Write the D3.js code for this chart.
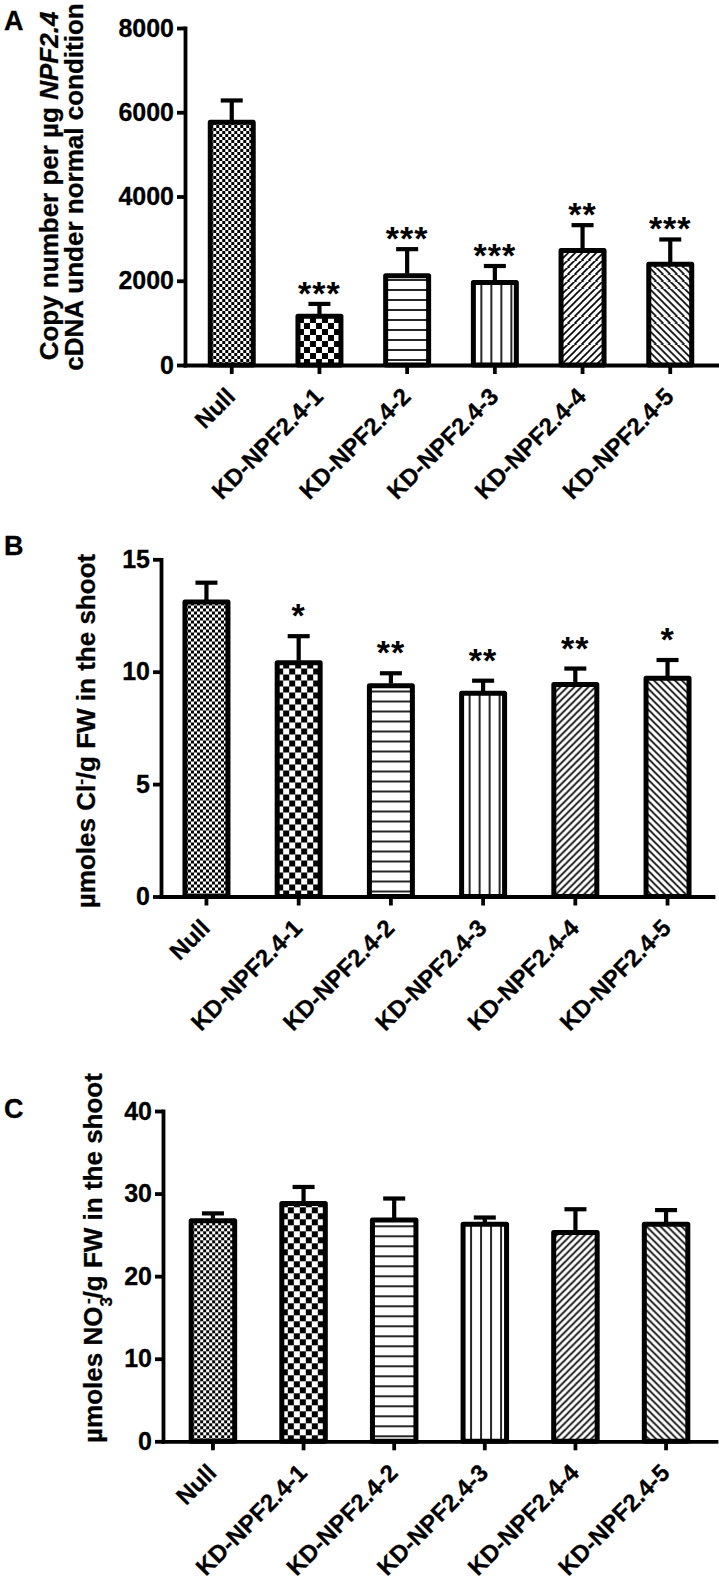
<!DOCTYPE html>
<html>
<head>
<meta charset="utf-8">
<script src="https://cdn.jsdelivr.net/npm/d3@7"></script>
<style>
  html, body { margin: 0; padding: 0; background: #fff; }
  svg { display: block; }
  text { font-family: "Liberation Sans", Arial, sans-serif; }
</style>
</head>
<body>
<svg id="chart" width="719" height="1589"></svg>
<script>
// ---------- data ----------
const categories = ["Null", "KD-NPF2.4-1", "KD-NPF2.4-2", "KD-NPF2.4-3", "KD-NPF2.4-4", "KD-NPF2.4-5"];

const copyMean  = [5760, 1160, 2120, 1960, 2720, 2390];
const copySem   = [520, 290, 630, 390, 600, 590];
const copyStars = ["", "***", "***", "***", "**", "***"];
const copyTicks = [0, 2000, 4000, 6000, 8000];

const clMean  = [13.1, 10.4, 9.38, 9.04, 9.43, 9.71];
const clSem   = [0.86, 1.18, 0.55, 0.56, 0.71, 0.81];
const clStars = ["", "*", "**", "**", "**", "*"];
const clTicks = [0, 5, 10, 15];

const no3Mean  = [26.7, 28.8, 26.8, 26.3, 25.3, 26.3];
const no3Sem   = [0.9, 2.0, 2.6, 0.8, 2.8, 1.7];
const no3Stars = ["", "", "", "", "", ""];
const no3Ticks = [0, 10, 20, 30, 40];

// ---------- layout ----------
const panels = [
  { id: "A", mean: copyMean, sem: copySem, stars: copyStars, ticks: copyTicks, max: 8000,
    x0: 185, x1: 717, pi: 0.51, po: 0.288, yB: 365, yT: 28, starGap: 18,
    letterY: 30 },
  { id: "B", mean: clMean, sem: clSem, stars: clStars, ticks: clTicks, max: 15,
    x0: 161, x1: 713, pi: 0.534, po: 0.26, yB: 896.5, yT: 559.3, starGap: 28,
    letterY: 555 },
  { id: "C", mean: no3Mean, sem: no3Sem, stars: no3Stars, ticks: no3Ticks, max: 40,
    x0: 163, x1: 716, pi: 0.52, po: 0.311, yB: 1441.3, yT: 1111, starGap: 20,
    letterY: 1118 }
];

const svg = d3.select("#chart");
const defs = svg.append("defs");
const FONT = "'Liberation Sans', Arial, sans-serif";

function makePattern(id, kind, bx, by) {
  const sizes = [6, 12, 10, 10, 7, 7];
  const s = sizes[kind];
  const p = defs.append("pattern").attr("id", id).attr("patternUnits", "userSpaceOnUse")
    .attr("x", bx).attr("y", by).attr("width", s).attr("height", s);
  p.append("rect").attr("width", s).attr("height", s).attr("fill", "#fff");
  if (kind === 0 || kind === 1) {
    const h = s / 2;
    p.append("rect").attr("width", h).attr("height", h).attr("fill", "#000");
    p.append("rect").attr("x", h).attr("y", h).attr("width", h).attr("height", h).attr("fill", "#000");
  } else if (kind === 2) {
    p.append("line").attr("x1", 0).attr("x2", s).attr("y1", 5).attr("y2", 5)
      .attr("stroke", "#000").attr("stroke-width", 1.7);
  } else if (kind === 3) {
    p.append("line").attr("x1", 8).attr("x2", 8).attr("y1", 0).attr("y2", s)
      .attr("stroke", "#000").attr("stroke-width", 1.7);
  } else if (kind === 4) {
    p.append("path").attr("d", "M0,7 L7,0 M-1,1 L1,-1 M6,8 L8,6")
      .attr("stroke", "#000").attr("stroke-width", 1.6);
  } else {
    p.append("path").attr("d", "M0,0 L7,7 M-1,6 L1,8 M6,-1 L8,1")
      .attr("stroke", "#000").attr("stroke-width", 1.6);
  }
}

panels.forEach(P => {
  const g = svg.append("g");
  const x = d3.scaleBand().domain(categories).range([P.x0, P.x1])
    .paddingInner(P.pi).paddingOuter(P.po);
  const y = d3.scaleLinear().domain([0, P.max]).range([P.yB, P.yT]);

  categories.forEach((c, i) => makePattern("pat" + P.id + i, i, x(c), y(0)));

  // bars
  g.selectAll("rect.bar").data(categories).join("rect")
    .attr("class", "bar")
    .attr("x", c => x(c))
    .attr("width", x.bandwidth())
    .attr("y", (c, i) => y(P.mean[i]))
    .attr("height", (c, i) => y(0) - y(P.mean[i]))
    .attr("fill", (c, i) => `url(#pat${P.id}${i})`)
    .attr("stroke", "#000").attr("stroke-width", 5).attr("stroke-linejoin", "round");

  // error bars (upper only)
  const cx = c => x(c) + x.bandwidth() / 2;
  g.selectAll("line.err").data(categories).join("line")
    .attr("class", "err")
    .attr("x1", cx).attr("x2", cx)
    .attr("y1", (c, i) => y(P.mean[i]) - 2)
    .attr("y2", (c, i) => y(P.mean[i] + P.sem[i]))
    .attr("stroke", "#000").attr("stroke-width", 4.2);
  g.selectAll("line.cap").data(categories).join("line")
    .attr("class", "cap")
    .attr("x1", c => cx(c) - 11).attr("x2", c => cx(c) + 11)
    .attr("y1", (c, i) => y(P.mean[i] + P.sem[i]))
    .attr("y2", (c, i) => y(P.mean[i] + P.sem[i]))
    .attr("stroke", "#000").attr("stroke-width", 4.2);

  // significance stars
  g.selectAll("text.star").data(categories).join("text")
    .attr("class", "star")
    .attr("x", cx)
    .attr("y", (c, i) => y(P.mean[i] + P.sem[i]) - P.starGap + 19)
    .attr("text-anchor", "middle")
    .attr("font-size", 34).attr("font-weight", "bold").attr("font-family", FONT)
    .attr("letter-spacing", 1)
    .text((c, i) => P.stars[i]);

  // y axis
  const ya = g.append("g").attr("transform", `translate(${P.x0},0)`)
    .call(d3.axisLeft(y).tickValues(P.ticks).tickFormat(d3.format("d"))
      .tickSize(8).tickSizeOuter(0).tickPadding(3));
  ya.select(".domain").attr("stroke-width", 3.8).attr("stroke-linecap", "square");
  ya.selectAll(".tick line").attr("stroke-width", 3.8);
  ya.selectAll(".tick text").attr("font-size", 25).attr("font-weight", "bold")
    .attr("font-family", FONT).attr("fill", "#000")
    .attr("stroke", "#000").attr("stroke-width", 0.3);

  // x axis
  const xa = g.append("g").attr("transform", `translate(0,${P.yB})`)
    .call(d3.axisBottom(x).tickSize(9).tickSizeOuter(0));
  xa.select(".domain").attr("stroke-width", 3.8).attr("stroke-linecap", "square");
  xa.selectAll(".tick line").attr("stroke-width", 3.8);
  xa.selectAll(".tick text")
    .attr("x", 0).attr("y", 0).attr("dy", 0)
    .attr("transform", "translate(5,33) rotate(-45)")
    .attr("text-anchor", "end")
    .attr("font-size", 24).attr("font-weight", "bold")
    .attr("font-family", FONT).attr("fill", "#000")
    .attr("stroke", "#000").attr("stroke-width", 0.3);

  // panel letter
  svg.append("text").attr("x", 4).attr("y", P.letterY)
    .attr("font-size", 27).attr("font-weight", "bold").attr("font-family", FONT)
    .attr("stroke", "#000").attr("stroke-width", 0.3)
    .text(P.id);
});

// y-axis titles
function vtext(x, y) {
  return svg.append("text")
    .attr("transform", `translate(${x},${y}) rotate(-90)`)
    .attr("text-anchor", "middle")
    .attr("font-size", 26).attr("font-weight", "bold").attr("font-family", FONT)
    .attr("stroke", "#000").attr("stroke-width", 0.3);
}
const tA1 = vtext(58, 186);
tA1.append("tspan").text("Copy number per \u00b5g ");
tA1.append("tspan").attr("font-style", "italic").text("NPF2.4");
vtext(83, 187).text("cDNA under normal condition");

const tB = vtext(95, 731);
tB.append("tspan").text("\u00b5moles Cl");
tB.append("tspan").attr("baseline-shift", "super").attr("font-size", 17).text("-");
tB.append("tspan").text("/g FW in the shoot");

const tC = vtext(102, 1258);
tC.append("tspan").text("\u00b5moles NO");
tC.append("tspan").attr("baseline-shift", "sub").attr("font-size", 17).text("3");
tC.append("tspan").attr("baseline-shift", "super").attr("font-size", 17).attr("dx", -7).text("-");
tC.append("tspan").text("/g FW in the shoot");
</script>
</body>
</html>
